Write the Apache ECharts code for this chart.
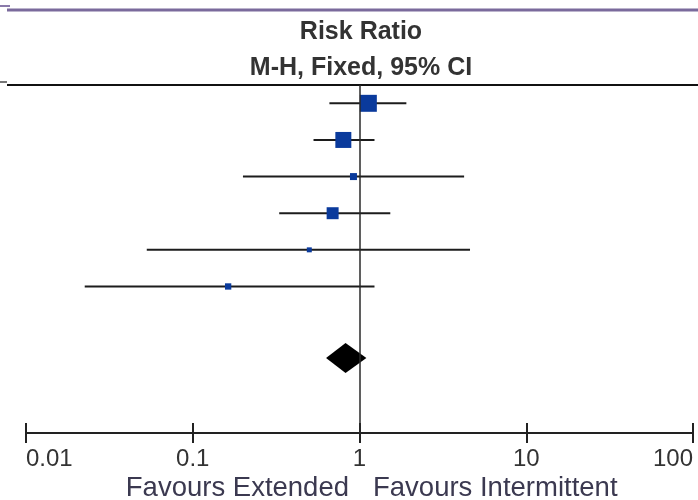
<!DOCTYPE html>
<html><head><meta charset="utf-8">
<script src="https://cdn.jsdelivr.net/npm/echarts@6/dist/echarts.min.js"></script>
<style>html,body{margin:0;padding:0;background:#fff}#c{width:698px;height:500px}</style>
</head><body><div id="c"></div>
<script>
// Study-level risk ratios
const riskRatio = [1.13, 0.80, 0.92, 0.69, 0.50, 0.163];
const lowerCI   = [0.66, 0.53, 0.20, 0.33, 0.053, 0.0225];
const upperCI   = [1.91, 1.23, 4.24, 1.53, 4.60, 1.23];
const weights   = [36.0, 31.9, 6.1, 17.9, 3.1, 5.0];
// Pooled estimate: [lower, estimate, upper]
const pooled    = [0.63, 0.825, 1.10];
const tickLabels = ['0.01', '0.1', '1', '10', '100'];

const FONT = "'Liberation Sans', Arial, sans-serif";
const rowPos = i => i + 0.5;
const pooledRow = 7.45;

const chart = echarts.init(document.getElementById('c'), null, {renderer: 'canvas'});
const axisCommon = {
  type: 'log', logBase: 10, min: 0.01, max: 100,
  splitLine: {show: false}, minorTick: {show: false}
};
chart.setOption({
  animation: false,
  backgroundColor: '#ffffff',
  grid: {left: 26, right: 5, top: 85, bottom: 67, containLabel: false, outerBoundsMode: 'none'},
  xAxis: [
    Object.assign({}, axisCommon, {
      position: 'bottom',
      axisLine: {show: true, onZero: false, lineStyle: {color: '#222', width: 2}},
      axisTick: {show: true, length: 10, lineStyle: {color: '#222', width: 2}},
      axisLabel: {
        show: true, fontSize: 24, color: '#333', fontFamily: FONT, margin: 14,
        showMinLabel: true, showMaxLabel: true,
        alignMinLabel: 'left', alignMaxLabel: 'right',
        formatter: (v, idx) => tickLabels[idx]
      }
    }),
    Object.assign({}, axisCommon, {
      position: 'bottom',
      offset: 0,
      axisLine: {show: false, onZero: false},
      axisTick: {show: true, inside: true, length: 10, lineStyle: {color: '#222', width: 2}},
      axisLabel: {show: false}
    })
  ],
  yAxis: {
    type: 'value', inverse: true, min: 0, max: 9.5, show: false
  },
  series: [
    {
      type: 'custom',
      xAxisIndex: 0,
      encode: {x: [0, 1], y: 2},
      data: lowerCI.map((l, i) => [l, upperCI[i], rowPos(i)]),
      renderItem: (params, api) => {
        const a = api.coord([api.value(0), api.value(2)]);
        const b = api.coord([api.value(1), api.value(2)]);
        return {type: 'line', shape: {x1: a[0], y1: a[1], x2: b[0], y2: b[1]},
          style: {stroke: '#1c1c1c', lineWidth: 2}};
      },
      z: 2,
      markLine: {
        silent: true, symbol: ['none', 'none'], label: {show: false},
        lineStyle: {color: '#2a2a2a', width: 1.5, type: 'solid'},
        data: [{xAxis: 1}]
      }
    },
    {
      type: 'scatter',
      xAxisIndex: 0,
      symbol: 'rect',
      data: riskRatio.map((v, i) => [v, rowPos(i), weights[i]]),
      symbolSize: d => 2.83 * Math.sqrt(d[2]),
      itemStyle: {color: '#0a3a9c', opacity: 1},
      z: 3
    },
    {
      type: 'custom',
      xAxisIndex: 0,
      encode: {x: [0, 1, 2], y: 3},
      data: [[pooled[0], pooled[1], pooled[2], pooledRow]],
      renderItem: (params, api) => {
        const y = api.value(3);
        const lo = api.coord([api.value(0), y]);
        const mid = api.coord([api.value(1), y]);
        const hi = api.coord([api.value(2), y]);
        const h = 15;
        return {type: 'polygon', shape: {points: [[lo[0], lo[1]], [mid[0], mid[1] - h], [hi[0], hi[1]], [mid[0], mid[1] + h]]},
          style: {fill: '#000'}};
      },
      z: 4
    }
  ],
  graphic: [
    {type: 'line', shape: {x1: 7, y1: 10, x2: 698, y2: 10}, style: {stroke: '#7a6a9c', lineWidth: 3}},
    {type: 'line', shape: {x1: 0, y1: 6, x2: 10, y2: 6}, style: {stroke: '#8a7aaa', lineWidth: 2}},
    {type: 'line', shape: {x1: 7, y1: 85, x2: 698, y2: 85}, style: {stroke: '#111', lineWidth: 2}},
    {type: 'line', shape: {x1: 0, y1: 82, x2: 7, y2: 82}, style: {stroke: '#777', lineWidth: 2}},
    {type: 'text', x: 361, y: 32, style: {text: 'Risk Ratio', font: "bold 25px " + FONT, fill: '#333', align: 'center', verticalAlign: 'middle'}},
    {type: 'text', x: 361, y: 68, style: {text: 'M-H, Fixed, 95% CI', font: "bold 25px " + FONT, fill: '#333', align: 'center', verticalAlign: 'middle'}},
    {type: 'text', x: 349, y: 488, style: {text: 'Favours Extended', font: "27.5px " + FONT, fill: '#3b3950', align: 'right', verticalAlign: 'middle'}},
    {type: 'text', x: 373, y: 488, style: {text: 'Favours Intermittent', font: "27.5px " + FONT, fill: '#3b3950', align: 'left', verticalAlign: 'middle'}}
  ]
});
</script>
</body></html>
